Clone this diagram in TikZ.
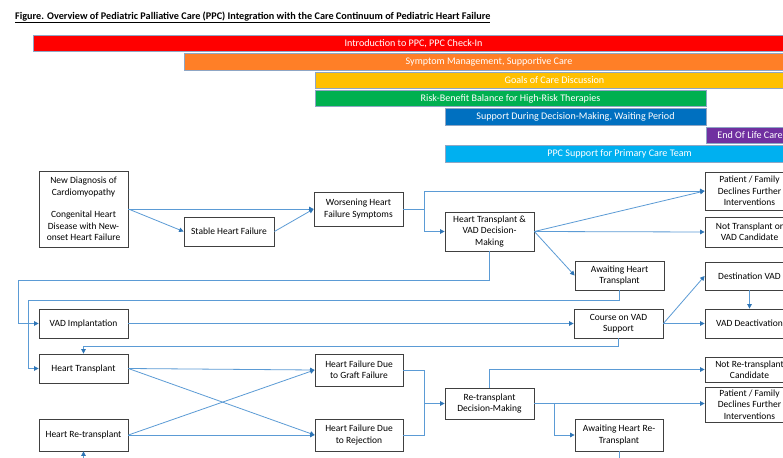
\documentclass[tikz,border=0pt]{standalone}
\usepackage{fontspec}
\setmainfont{Carlito}
\usetikzlibrary{arrows.meta}
\definecolor{linkblue}{HTML}{5B9BD5}
\definecolor{tipblue}{HTML}{2E75B6}
\definecolor{boxgray}{HTML}{404040}
\definecolor{barline}{HTML}{8FA6C4}
\definecolor{cred}{HTML}{FF0000}
\definecolor{corange}{HTML}{FF7F27}
\definecolor{cyellow}{HTML}{FFC000}
\definecolor{cgreen}{HTML}{00B050}
\definecolor{cblue}{HTML}{0070C0}
\definecolor{cpurple}{HTML}{7030A0}
\definecolor{ccyan}{HTML}{00B0F0}
\begin{document}
\begin{tikzpicture}[x=1pt,y=-1pt,
 box/.style={draw=boxgray, line width=0.8pt, fill=white, align=center, inner sep=0pt, minimum width=89pt, font=\fontsize{9.5}{11.3}\selectfont, text=black},
 bar/.style={draw=barline, line width=1pt, text=white, inner sep=0pt, minimum height=16.4pt, font=\fontsize{10.1}{11}\selectfont},
 conn/.style={draw=linkblue, line width=0.8pt},
 arr/.style={conn, -{Triangle[length=4.5pt,width=4.5pt,color=tipblue]}}]
\useasboundingbox (0,0) rectangle (783,457);
\clip (0,0) rectangle (783,457);
\fill[white] (0,0) rectangle (783,457);

\node[anchor=base west, inner sep=0pt, font=\bfseries\fontsize{10.2}{12}\selectfont] (title) at (15,19.5)
  {\underline{Figure. Overview of Pediatric Palliative Care (PPC) Integration with the Care Continuum of Pediatric Heart Failure}};

% bars
\node[bar, fill=cred, minimum width=761pt] (b1) at (413.5,43.7) {Introduction to PPC, PPC Check-In};
\node[bar, fill=corange, minimum width=610pt] (b2) at (489,62) {Symptom Management, Supportive Care};
\node[bar, fill=cyellow, minimum width=479pt] (b3) at (554.5,80.5) {Goals of Care Discussion};
\node[bar, fill=cgreen, minimum width=391pt] (b4) at (510.5,98.5) {Risk-Benefit Balance for High-Risk Therapies};
\node[bar, fill=cblue, minimum width=261pt] (b5) at (575.5,117) {Support During Decision-Making, Waiting Period};
\node[bar, fill=cpurple, minimum width=88pt] (b6) at (750,135.5) {End Of Life Care};
\node[bar, fill=ccyan, minimum width=349pt] (b7) at (619.5,154) {PPC Support for Primary Care Team};

% boxes
\node[box, minimum height=76pt] (newdx) at (83.5,209) {New Diagnosis of\\Cardiomyopathy\\[11.3pt]Congenital Heart\\Disease with New-\\onset Heart Failure};
\node[box, minimum height=29pt, minimum width=90pt] (stable) at (229,231.5) {Stable Heart Failure};
\node[box, minimum height=34pt] (worse) at (358.5,209) {Worsening Heart\\Failure Symptoms};
\node[box, minimum height=39pt] (htvad) at (489.5,231.5) {Heart Transplant \&\\VAD Decision-\\Making};
\node[box, minimum height=38pt] (pfd1) at (749.5,191) {Patient / Family\\Declines Further\\Interventions};
\node[box, minimum height=30pt] (notcand) at (749.5,232) {Not Transplant or\\VAD Candidate};
\node[box, minimum height=29pt] (awaitht) at (619.5,275.5) {Awaiting Heart\\Transplant};
\node[box, minimum height=28pt] (destvad) at (749.5,276) {Destination VAD};
\node[box, minimum height=29pt] (vadimp) at (83.5,323.5) {VAD Implantation};
\node[box, minimum height=29pt] (course) at (618.5,323.5) {Course on VAD\\Support};
\node[box, minimum height=29pt] (vaddeact) at (749.5,323.5) {VAD Deactivation};
\node[box, minimum height=29pt] (ht) at (83.5,368.5) {Heart Transplant};
\node[box, minimum height=32pt, minimum width=88pt] (hfgraft) at (359,370) {Heart Failure Due\\to Graft Failure};
\node[box, minimum height=32pt, minimum width=88pt] (hfrej) at (359,435) {Heart Failure Due\\to Rejection};
\node[box, minimum height=32pt] (retx) at (83.5,435) {Heart Re-transplant};
\node[box, minimum height=31pt] (redm) at (489.5,403.5) {Re-transplant\\Decision-Making};
\node[box, minimum height=25pt] (notre) at (749.5,369.5) {Not Re-transplant\\Candidate};
\node[box, minimum height=35pt] (pfd2) at (749.5,404.5) {Patient / Family\\Declines Further\\Interventions};
\node[box, minimum height=32pt, minimum width=88pt] (awaitre) at (619,435) {Awaiting Heart Re-\\Transplant};

% junctions
\coordinate (j1) at (424,209);
\coordinate (j2) at (18,280);
\coordinate (j3) at (28,300);
\coordinate (j4) at (83.5,346);
\coordinate (j5) at (424,403.5);
\coordinate (j6) at (554,403.5);
\coordinate (offa) at (619,475);
\coordinate (offb) at (83.5,475);

% connectors
\draw[arr] (newdx.east) -- (stable.west);
\draw[arr] (newdx.east) -- (worse.west);
\draw[arr] (stable.east) -- (worse.west);
\draw[conn] (worse.east) -- (j1);
\draw[arr] (j1) |- (pfd1.west);
\draw[arr] (j1) |- (htvad.west);
\draw[arr] (htvad.east) -- (pfd1.west);
\draw[arr] (htvad.east) -- (notcand.west);
\draw[arr] (htvad.east) -- (awaitht.west);
\draw[conn] (htvad.south) |- (j2);
\draw[arr] (j2) |- (vadimp.west);
\draw[conn] (awaitht.south) |- (j3);
\draw[arr] (j3) |- (ht.west);
\draw[arr] (vadimp.east) -- (course.west);
\draw[arr] (course.east) -- (destvad.west);
\draw[arr] (course.east) -- (vaddeact.west);
\draw[arr] (destvad.south) -- (vaddeact.north);
\draw[conn] (course.south) |- (j4);
\draw[arr] (j4) -- (ht.north);
\draw[arr] (ht.east) -- (hfgraft.west);
\draw[arr] (ht.east) -- (hfrej.west);
\draw[arr] (retx.east) -- (hfgraft.west);
\draw[arr] (retx.east) -- (hfrej.west);
\draw[conn] (hfgraft.east) -| (j5);
\draw[conn] (hfrej.east) -| (j5);
\draw[arr] (j5) -- (redm.west);
\draw[arr] (redm.north) |- (notre.west);
\draw[arr] (redm.east) -- (redm.east -| pfd2.west);
\draw[arr] (j6) |- (awaitre.west);
\draw[conn] (awaitre.south) -- (offa);
\draw[arr] (offb) -- (retx.south);
\end{tikzpicture}
\end{document}
